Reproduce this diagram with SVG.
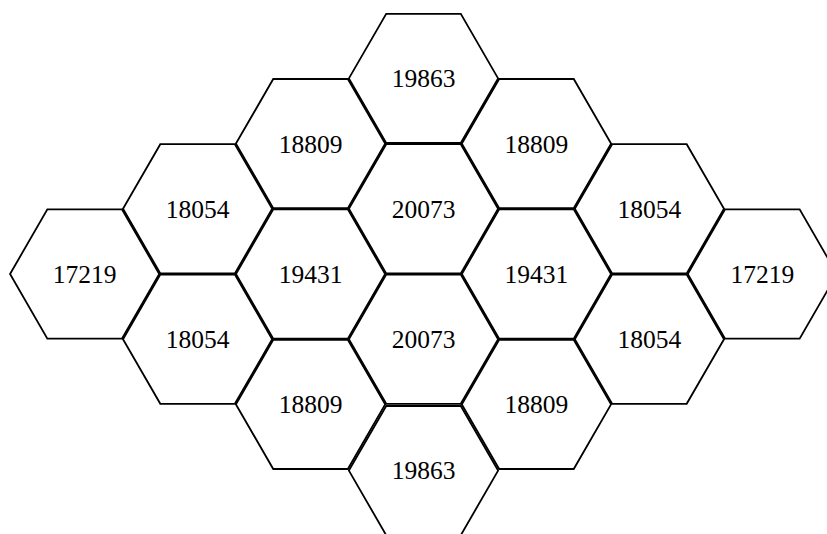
<svg xmlns="http://www.w3.org/2000/svg" xmlns:xlink="http://www.w3.org/1999/xlink" width="827" height="534" viewBox="0 0 827 534">
  <style>
    .hex { fill: none; stroke: #000; stroke-width: 1.8; stroke-linejoin: miter; }
    .lbl { font-family: "Liberation Serif", "Times New Roman", serif; font-size: 25.5px; fill: #000; text-anchor: middle; }
  </style>
  <defs>
    <polygon id="hex" class="hex" points="74.6,0 37.3,64.6 -37.3,64.6 -74.6,0 -37.3,-64.6 37.3,-64.6"/>
  </defs>
  <rect width="827" height="534" fill="#fff"/>
  <g id="nodes">
    <g id="h_m3_0" transform="translate(84.65,274)"><use xlink:href="#hex" href="#hex"/><text class="lbl" y="9">17219</text></g>
    <g id="h_m2_0" transform="translate(197.6,208.8)"><use xlink:href="#hex" href="#hex"/><text class="lbl" y="9">18054</text></g>
    <g id="h_m2_1" transform="translate(197.6,339.2)"><use xlink:href="#hex" href="#hex"/><text class="lbl" y="9">18054</text></g>
    <g id="h_m1_0" transform="translate(310.55,143.6)"><use xlink:href="#hex" href="#hex"/><text class="lbl" y="9">18809</text></g>
    <g id="h_m1_1" transform="translate(310.55,274)"><use xlink:href="#hex" href="#hex"/><text class="lbl" y="9">19431</text></g>
    <g id="h_m1_2" transform="translate(310.55,404.4)"><use xlink:href="#hex" href="#hex"/><text class="lbl" y="9">18809</text></g>
    <g id="h_0_0" transform="translate(423.5,78.4)"><use xlink:href="#hex" href="#hex"/><text class="lbl" y="9">19863</text></g>
    <g id="h_0_1" transform="translate(423.5,208.8)"><use xlink:href="#hex" href="#hex"/><text class="lbl" y="9">20073</text></g>
    <g id="h_0_2" transform="translate(423.5,339.2)"><use xlink:href="#hex" href="#hex"/><text class="lbl" y="9">20073</text></g>
    <g id="h_0_3" transform="translate(423.5,470.6)"><use xlink:href="#hex" href="#hex"/><text class="lbl" y="8">19863</text></g>
    <g id="h_p1_0" transform="translate(536.45,143.6)"><use xlink:href="#hex" href="#hex"/><text class="lbl" y="9">18809</text></g>
    <g id="h_p1_1" transform="translate(536.45,274)"><use xlink:href="#hex" href="#hex"/><text class="lbl" y="9">19431</text></g>
    <g id="h_p1_2" transform="translate(536.45,404.4)"><use xlink:href="#hex" href="#hex"/><text class="lbl" y="9">18809</text></g>
    <g id="h_p2_0" transform="translate(649.4,208.8)"><use xlink:href="#hex" href="#hex"/><text class="lbl" y="9">18054</text></g>
    <g id="h_p2_1" transform="translate(649.4,339.2)"><use xlink:href="#hex" href="#hex"/><text class="lbl" y="9">18054</text></g>
    <g id="h_p3_0" transform="translate(762.35,274)"><use xlink:href="#hex" href="#hex"/><text class="lbl" y="9">17219</text></g>
  </g>
</svg>
